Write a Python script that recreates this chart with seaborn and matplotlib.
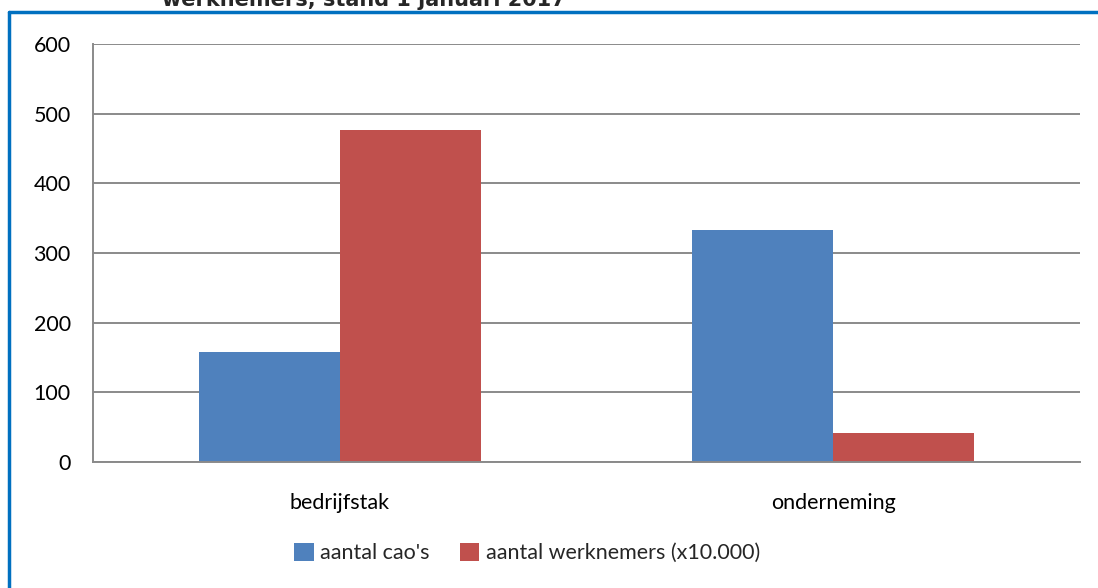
import pandas as pd
import matplotlib.pyplot as plt
import seaborn as sns
from matplotlib.lines import Line2D
from matplotlib.patches import Patch

# Data
categories = ['bedrijfstak', 'onderneming']
series = ["aantal cao's", 'aantal werknemers (x10.000)']
cao_counts = [158, 333]
employees = [476, 41]
y_ticks = [0, 100, 200, 300, 400, 500, 600]
colors = ['#4F81BD', '#C0504D']

df = pd.DataFrame({
    'categorie': categories * 2,
    'reeks': [series[0]] * 2 + [series[1]] * 2,
    'waarde': cao_counts + employees,
})

sns.set_style('white')
plt.rcParams['font.family'] = ['Lato', 'DejaVu Sans']

fig = plt.figure(figsize=(10.98, 5.88), dpi=100)
ax = fig.add_axes([93 / 1098, 1 - 462 / 588, (1080 - 93) / 1098, (462 - 44) / 588])

sns.barplot(data=df, x='categorie', y='waarde', hue='reeks', palette=colors,
            width=0.571, saturation=1, ax=ax, legend=False, edgecolor='none')

ax.set_xlim(-0.5, 1.5)
ax.set_ylim(0, 600)
ax.set_yticks(y_ticks)
ax.yaxis.grid(True, color='#8a8a8a', linewidth=1.4)
ax.set_axisbelow(True)
ax.set_xlabel('')
ax.set_ylabel('')

for side in ['top', 'right']:
    ax.spines[side].set_visible(False)
for side in ['left', 'bottom']:
    ax.spines[side].set_color('#8a8a8a')
    ax.spines[side].set_linewidth(1.4)

ax.tick_params(axis='y', length=6, width=1.4, pad=10, labelsize=15.5)
ax.set_xticks([-0.5, 0.5, 1.5], minor=True)
ax.tick_params(axis='x', which='minor', length=6, width=1.4, direction='out')
ax.tick_params(axis='x', which='major', length=0, pad=22, labelsize=15.5)
ax.tick_params(axis='both', which='both', colors='#8a8a8a', labelcolor='black')

# Legend
handles = [Patch(facecolor=c, edgecolor='none') for c in colors]
fig.legend(handles, series, loc='center', bbox_to_anchor=(527 / 1098, 1 - 553 / 588),
           ncol=2, frameon=False, fontsize=15.5, handlelength=0.9, handleheight=0.9,
           handletextpad=0.3, columnspacing=1.4)

# Partly cut-off title
fig.text(364 / 1098, 1 - 6 / 588, 'werknemers, stand 1 januari 2017',
         ha='center', va='baseline', fontsize=15, fontweight='bold',
         family=['DejaVu Sans'])

# Blue frame (top and left edge)
frame = '#0070C0'
fig.add_artist(Line2D([9 / 1098, 1.0], [1 - 12 / 588, 1 - 12 / 588],
                      transform=fig.transFigure, color=frame, linewidth=2.5))
fig.add_artist(Line2D([9 / 1098, 9 / 1098], [0, 1 - 12 / 588],
                      transform=fig.transFigure, color=frame, linewidth=2.5))

fig.savefig('out.png', dpi=100)
